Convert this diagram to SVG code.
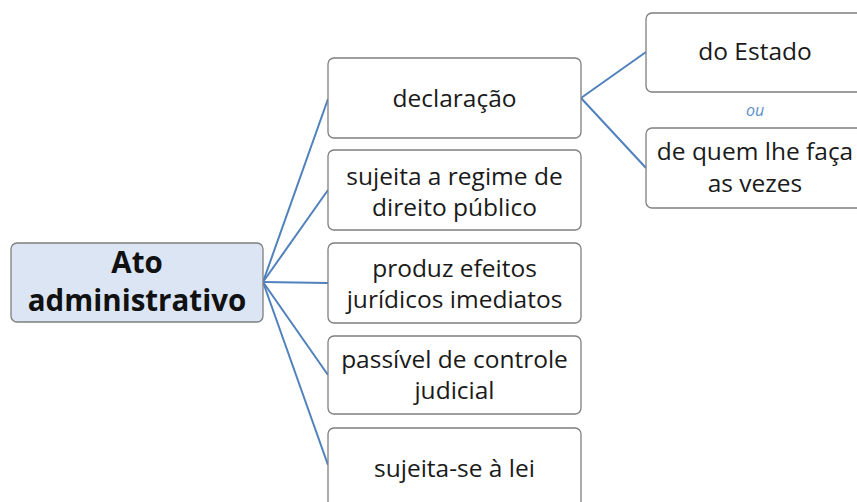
<svg xmlns="http://www.w3.org/2000/svg" width="857" height="502" viewBox="0 0 857 502">
<style>
.box{fill:#ffffff;stroke:#7f7f7f;stroke-width:1.3}
.root{fill:#dbe5f3;stroke:#7f7f7f;stroke-width:1.3}
.t{font-family:"Open Sans","Liberation Sans",sans-serif;font-size:24.5px;fill:#1a1a1a;text-anchor:middle}
.rt{font-family:"Open Sans","Liberation Sans",sans-serif;font-size:29.5px;font-weight:bold;fill:#111;text-anchor:middle}
.ou{font-family:"Open Sans","Liberation Sans",sans-serif;font-size:16px;font-style:italic;fill:#5b8ec9;text-anchor:middle}
.c{stroke:#4f81bd;stroke-width:2;fill:none}
</style>
<rect width="857" height="502" fill="#ffffff"/>
<g id="connectors">
<line class="c" x1="263" y1="282" x2="328" y2="99"/>
<line class="c" x1="263" y1="282" x2="328" y2="190"/>
<line class="c" x1="263" y1="282" x2="328" y2="283"/>
<line class="c" x1="263" y1="282" x2="328" y2="375"/>
<line class="c" x1="263" y1="282" x2="328" y2="465"/>
<line class="c" x1="581" y1="98" x2="646" y2="52"/>
<line class="c" x1="581" y1="98" x2="646" y2="168"/>
</g>
<g id="root">
<rect class="root" x="11" y="243" width="252" height="79" rx="6"/>
<text class="rt" x="137" y="273">Ato</text>
<text class="rt" x="137" y="311">administrativo</text>
</g>
<g id="declaracao">
<rect class="box" x="328" y="58" width="253" height="80" rx="6"/>
<text class="t" x="454.5" y="107">declaração</text>
</g>
<g id="regime">
<rect class="box" x="328" y="150" width="253" height="80" rx="6"/>
<text class="t" x="454.5" y="185">sujeita a regime de</text>
<text class="t" x="454.5" y="216">direito público</text>
</g>
<g id="efeitos">
<rect class="box" x="328" y="243" width="253" height="80" rx="6"/>
<text class="t" x="454.5" y="277">produz efeitos</text>
<text class="t" x="454.5" y="308">jurídicos imediatos</text>
</g>
<g id="controle">
<rect class="box" x="328" y="336" width="253" height="78" rx="6"/>
<text class="t" x="454.5" y="368">passível de controle</text>
<text class="t" x="454.5" y="399">judicial</text>
</g>
<g id="lei">
<rect class="box" x="328" y="428" width="253" height="80" rx="6"/>
<text class="t" x="454.5" y="477">sujeita-se à lei</text>
</g>
<g id="estado">
<rect class="box" x="646" y="13" width="220" height="79" rx="6"/>
<text class="t" x="755" y="60">do Estado</text>
</g>
<text class="ou" x="755" y="116">ou</text>
<g id="quem">
<rect class="box" x="646" y="128" width="220" height="80" rx="6"/>
<text class="t" x="755" y="160">de quem lhe faça</text>
<text class="t" x="755" y="192">as vezes</text>
</g>
</svg>
